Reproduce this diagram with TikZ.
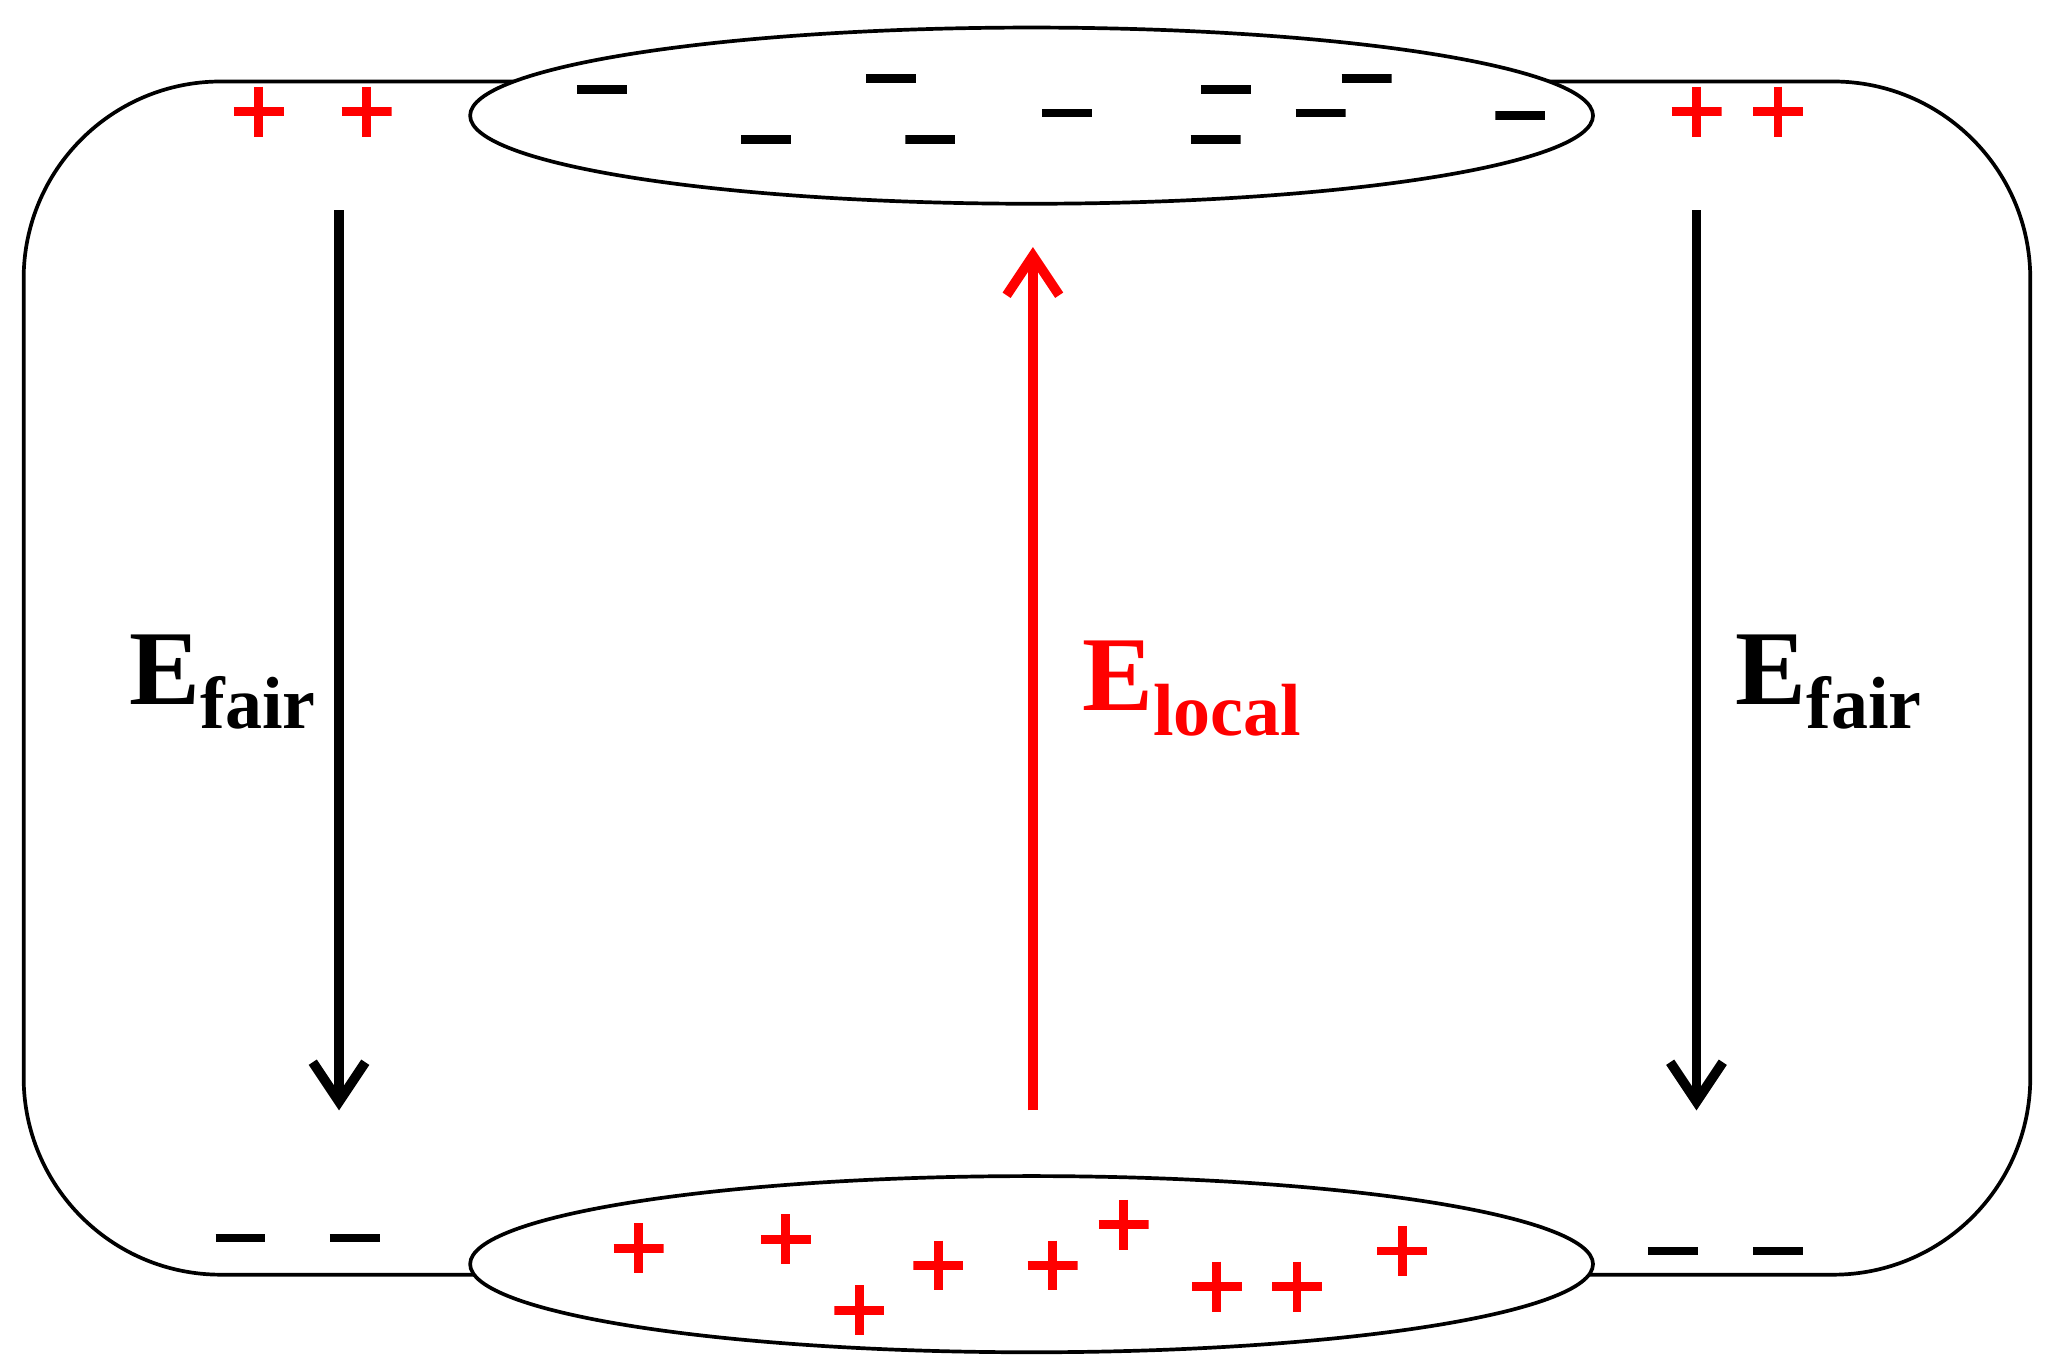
\documentclass[tikz,border=0pt]{standalone}
\usepackage{fontspec}
\setmainfont{Liberation Serif}
\usetikzlibrary{arrows.meta,shapes.geometric}
\begin{document}
\begin{tikzpicture}[x=0.01cm,y=-0.01cm,
  pl/.style={minimum size=0.38cm,inner sep=0,path picture={\draw[red,line width=1.9pt]
    (path picture bounding box.west)--(path picture bounding box.east)
    (path picture bounding box.north)--(path picture bounding box.south);}},
  mi/.style={minimum width=0.38cm,minimum height=0.1cm,inner sep=0,path picture={\draw[black,line width=1.9pt]
    (path picture bounding box.west)--(path picture bounding box.east);}},
  fld/.style={line width=2.1pt,-{Straight Barb[length=0.3cm,width=0.4cm,line width=2.1pt]}},
  lbl/.style={font=\bfseries\fontsize{23}{27}\selectfont,anchor=base west,inner sep=0}]
\useasboundingbox (0,0) rectangle (1560,1042);
\draw[line width=0.8pt,rounded corners=1.5cm] (18,62) rectangle (1545,970);
\node[draw,line width=0.8pt,fill=white,ellipse,minimum width=8.54cm,minimum height=1.34cm,inner sep=0] (top) at (785,88) {};
\node[draw,line width=0.8pt,fill=white,ellipse,minimum width=8.54cm,minimum height=1.34cm,inner sep=0] (bot) at (785,962) {};
\foreach \p [count=\i] in {(458,68),(678,60),(583,106),(708,106),(812,86),(933,68),(1040,60),(1005,86),(925,106),(1157,88),(183,942),(270,942),(1273,952),(1353,952)}
  \node[mi] (m\i) at \p {};
\foreach \p [count=\i] in {(197,85),(279,85),(1291,85),(1353,85),(486,950),(598,943),(654,997),(714,963),(801,963),(855,932),(926,979),(987,979),(1067,952)}
  \node[pl] (p\i) at \p {};
\coordinate (la) at (258,160); \coordinate (lb) at (258,845);
\coordinate (ra) at (1291,160); \coordinate (rb) at (1291,845);
\coordinate (ca) at (786,845); \coordinate (cb) at (786,188);
\draw[fld] (la)--(lb);
\draw[fld] (ra)--(rb);
\draw[fld,red] (ca)--(cb);
\node[lbl] (e1) at (98,536) {E\raisebox{-0.5ex}{\fontsize{16}{19}\selectfont fair}};
\node[lbl,red] (e2) at (823,541) {E\raisebox{-0.5ex}{\fontsize{16}{19}\selectfont local}};
\node[lbl] (e3) at (1320,536) {E\raisebox{-0.5ex}{\fontsize{16}{19}\selectfont fair}};
\end{tikzpicture}
\end{document}
